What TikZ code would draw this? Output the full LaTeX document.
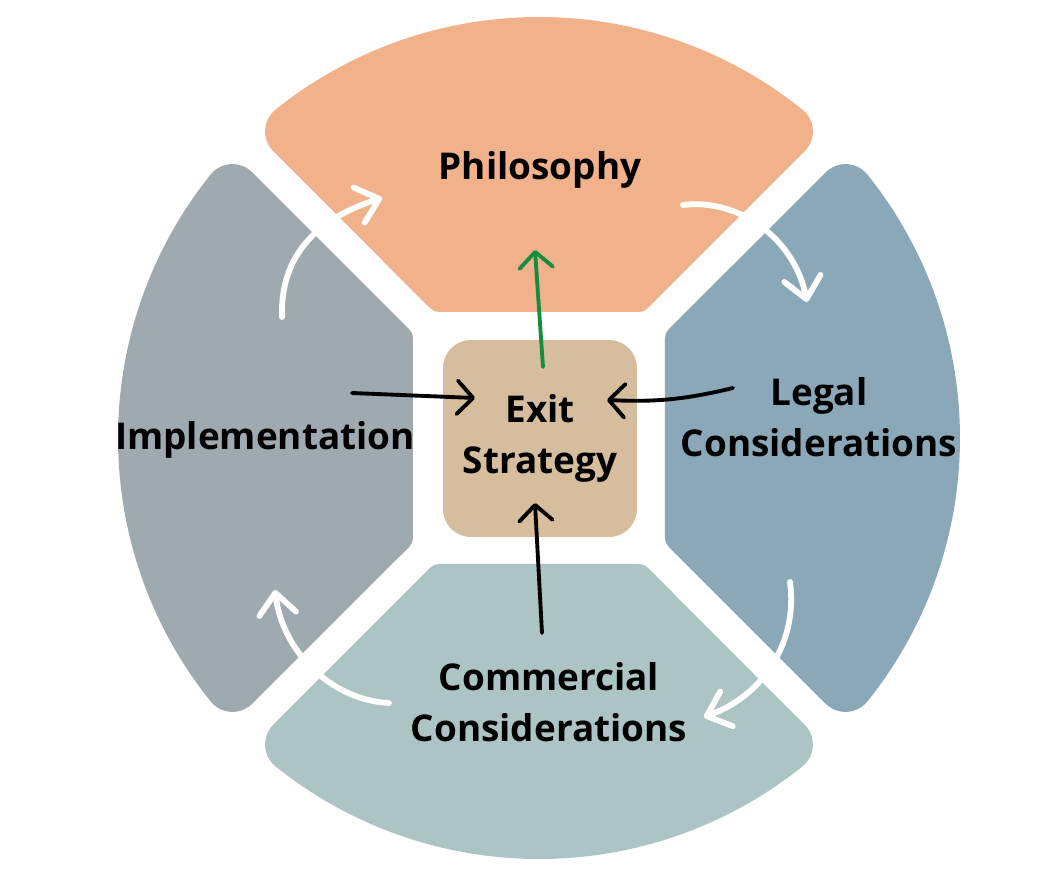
\documentclass[tikz,border=0pt]{standalone}
\usepackage{fontspec}
\setmainfont{Open Sans}
\usetikzlibrary{arrows.meta}
\definecolor{peach}{RGB}{241, 178, 139}
\definecolor{ashgray}{RGB}{158, 170, 175}
\definecolor{dustyblue}{RGB}{139, 168, 184}
\definecolor{sage}{RGB}{173, 196, 197}
\definecolor{sand}{RGB}{214, 189, 158}
\definecolor{leafgreen}{RGB}{22, 140, 62}

\begin{document}
\begin{tikzpicture}[x=0.02cm, y=0.02cm,
        sectorlabel/.style={font=\fontsize{21}{29}\selectfont\bfseries, text=black, align=center},
        ringarrow/.style={white, line width=3.3pt, line cap=round, -{Straight Barb[round, length=12pt, width=21pt]}},
        feedarrow/.style={line width=2.2pt, line cap=round, -{Straight Barb[round, length=9pt, width=19pt]}}]
            % Frame to fix the page size
            \useasboundingbox (-539,-448) rectangle (524,438);
            \fill[white] (-539,-448) rectangle (524,438);
            % Philosophy (top)
            \fill[peach] (-100.03,126) -- (100.03,126) arc[start angle=-90, end angle=-45, radius=12] -- (265.74,286.74) arc[start angle=-45, end angle=51.26, radius=28] arc[start angle=51.26, end angle=128.74, radius=421] arc[start angle=128.74, end angle=225, radius=28] -- (-108.52,129.51) arc[start angle=225, end angle=270, radius=12] -- cycle;
            % Implementation (left)
            \fill[ashgray, rotate=90] (-100.03,126) -- (100.03,126) arc[start angle=-90, end angle=-45, radius=12] -- (265.74,286.74) arc[start angle=-45, end angle=51.26, radius=28] arc[start angle=51.26, end angle=128.74, radius=421] arc[start angle=128.74, end angle=225, radius=28] -- (-108.52,129.51) arc[start angle=225, end angle=270, radius=12] -- cycle;
            % Commercial Considerations (bottom)
            \fill[sage, rotate=180] (-100.03,126) -- (100.03,126) arc[start angle=-90, end angle=-45, radius=12] -- (265.74,286.74) arc[start angle=-45, end angle=51.26, radius=28] arc[start angle=51.26, end angle=128.74, radius=421] arc[start angle=128.74, end angle=225, radius=28] -- (-108.52,129.51) arc[start angle=225, end angle=270, radius=12] -- cycle;
            % Legal Considerations (right)
            \fill[dustyblue, rotate=270] (-100.03,126) -- (100.03,126) arc[start angle=-90, end angle=-45, radius=12] -- (265.74,286.74) arc[start angle=-45, end angle=51.26, radius=28] arc[start angle=51.26, end angle=128.74, radius=421] arc[start angle=128.74, end angle=225, radius=28] -- (-108.52,129.51) arc[start angle=225, end angle=270, radius=12] -- cycle;
            % Centre box
            \node[fill=sand, rounded corners=0.56cm, minimum width=3.88cm, minimum height=3.94cm] (exitbox) at (1,-0.5) {};
            % Labels
            \node[sectorlabel] (exit)       at (1,0)      {Exit\\Strategy};
            \node[sectorlabel] (philo)      at (1,268)    {Philosophy};
            \node[sectorlabel] (impl)       at (-274,-2)  {Implementation};
            \node[sectorlabel] (legal)      at (280,21)   {Legal\\Considerations};
            \node[sectorlabel] (commercial) at (10,-264)  {Commercial\\Considerations};
            % Arrow ends
            \coordinate (exitTop)   at (4,71);
            \coordinate (philoTip)  at (-4,188);
            \coordinate (implFrom)  at (-187,45);
            \coordinate (exitWest)  at (-64,40);
            \coordinate (legalFrom) at (194,50);
            \coordinate (exitEast)  at (68,38);
            \coordinate (commFrom)  at (3,-195);
            \coordinate (exitSouth) at (-4,-65);
            \coordinate (implUp)    at (-257,121);
            \coordinate (philoIn)   at (-157,240);
            \coordinate (philoOut)  at (144,233);
            \coordinate (legalIn)   at (268,136);
            \coordinate (legalOut)  at (251,-144);
            \coordinate (commIn)    at (165,-279);
            \coordinate (commOut)   at (-150,-265);
            \coordinate (implIn)    at (-264,-152);
            % Ring of white arrows
            \draw[ringarrow] (implUp) .. controls (-259,183) and (-221,220) .. (philoIn);
            \draw[ringarrow] (philoOut) .. controls (201,240) and (256,198) .. (legalIn);
            \draw[ringarrow] (legalOut) .. controls (259,-202) and (226,-257) .. (commIn);
            \draw[ringarrow] (commOut) .. controls (-209,-262) and (-257,-212) .. (implIn);
            % Arrows into and out of the box
            \draw[feedarrow, leafgreen] (exitTop) -- (philoTip);
            \draw[feedarrow, black] (implFrom) -- (exitWest);
            \draw[feedarrow, black] (legalFrom) to[bend left=8] (exitEast);
            \draw[feedarrow, black] (commFrom) -- (exitSouth);
        \end{tikzpicture}
\end{document}
